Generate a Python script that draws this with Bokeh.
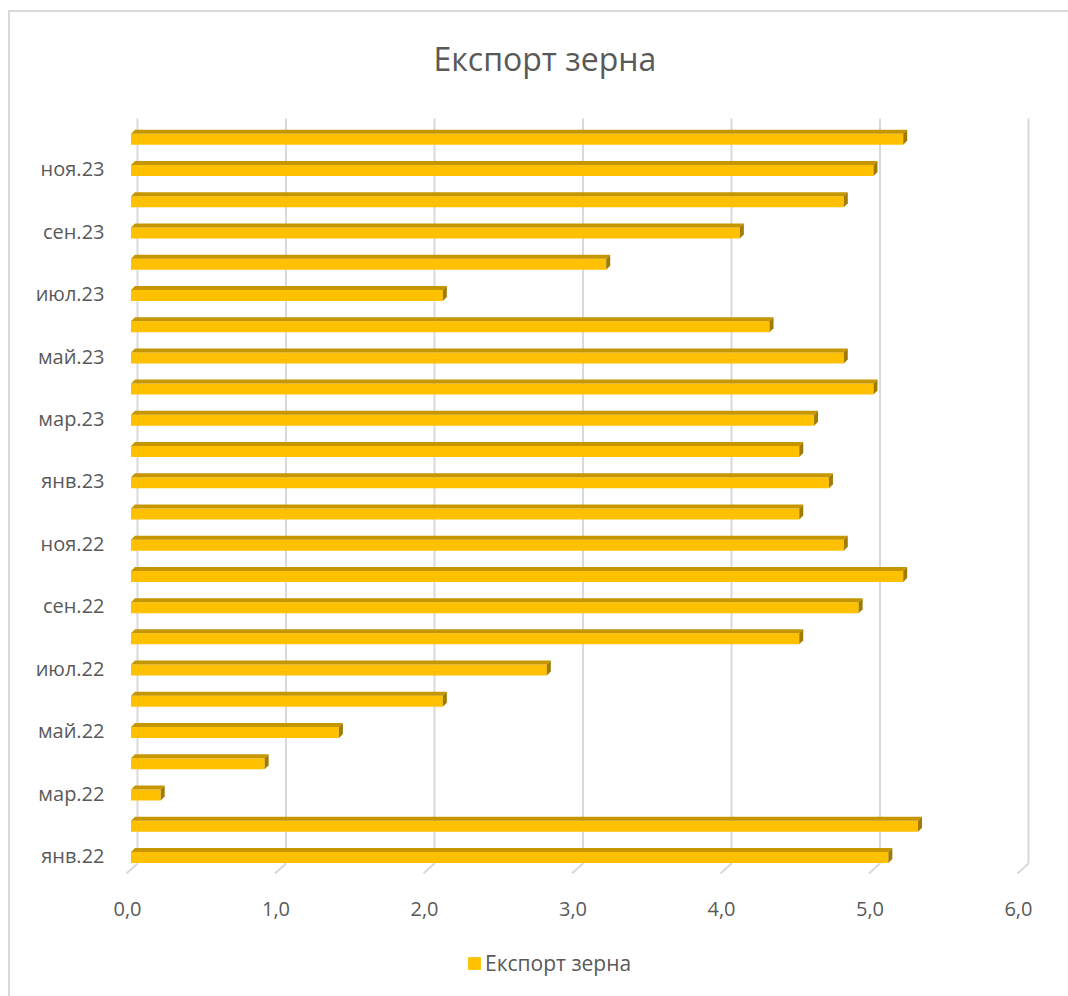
from bokeh.plotting import figure
from bokeh.models import (ColumnDataSource, Range1d, LinearAxis, FixedTicker,
                          Title, Legend, LegendItem)
from bokeh.layouts import column
from bokeh.embed import file_html
from bokeh.resources import INLINE

# ---------------- data ----------------
months = ["янв.22", "фев.22", "мар.22", "апр.22", "май.22", "июн.22",
          "июл.22", "авг.22", "сен.22", "окт.22", "ноя.22", "дек.22",
          "янв.23", "фев.23", "мар.23", "апр.23", "май.23", "июн.23",
          "июл.23", "авг.23", "сен.23", "окт.23", "ноя.23", "дек.23"]
values = [5.1, 5.3, 0.2, 0.9, 1.4, 2.1, 2.8, 4.5, 4.9, 5.2, 4.8, 4.5,
          4.7, 4.5, 4.6, 5.0, 4.8, 4.3, 2.1, 3.2, 4.1, 4.8, 5.0, 5.2]
x_ticks = [0, 1, 2, 3, 4, 5, 6]
x_tick_labels = ["0,0", "1,0", "2,0", "3,0", "4,0", "5,0", "6,0"]
title_text = "Експорт зерна"
series_name = "Експорт зерна"

# ---------------- style constants ----------------
TXT = "#595959"
GRID = "#D9D9D9"
FRONT = "#FFC000"
TOP = "#C59600"
SIDE = "#A07B00"
FONT = "Open Sans"

W, H = 1058, 934
LEG_H = 50
ML, MR, MT, MB = 110, 28, 88, 66
frame_w = W - ML - MR
frame_h = H - MT - MB
XMIN, XMAX = -0.1145, 6.081
YMIN, YMAX = -0.80, 24.185
pxx = frame_w / (XMAX - XMIN)      # px per x unit
pxy = frame_h / (YMAX - YMIN)      # px per y unit

# 3D look (pixels converted to data units)
front_shift = -6.5 / pxx
depth_dx = 4.0 / pxx
depth_dy = 4.0 / pxy
face_h = 11.0 / pxy
face_c = -0.06
grid_top = 23.61
grid_bot = -0.256
grid_diag = -0.577
grid_diag_dx = -11.0 / pxx

p = figure(width=W, height=H, x_range=Range1d(XMIN, XMAX), y_range=Range1d(YMIN, YMAX),
           output_backend="svg", toolbar_location=None,
           min_border_left=ML, min_border_right=MR, min_border_top=MT, min_border_bottom=MB,
           x_axis_location=None, y_axis_location=None)
p.outline_line_color = None
p.xgrid.visible = False
p.ygrid.visible = False
p.background_fill_color = "white"
p.border_fill_color = "white"

# gridlines (vertical back wall + floor diagonal)
gx0, gy0, gx1, gy1 = [], [], [], []
for t in x_ticks:
    gx0 += [t, t]
    gy0 += [grid_top, grid_bot]
    gx1 += [t, t + grid_diag_dx]
    gy1 += [grid_bot, grid_diag]
p.segment(x0=gx0, y0=gy0, x1=gx1, y1=gy1, line_color=GRID, line_width=2)

# bars
idx = list(range(len(values)))
left = [front_shift] * len(values)
right = [v + front_shift for v in values]
bottom = [i + face_c - face_h / 2 for i in idx]
top = [i + face_c + face_h / 2 for i in idx]
front_src = ColumnDataSource(dict(left=left, right=right, bottom=bottom, top=top))
p.quad(left="left", right="right", bottom="bottom", top="top", source=front_src,
       fill_color=FRONT, line_color=None)

top_xs, top_ys, side_xs, side_ys = [], [], [], []
for l, r, b, t in zip(left, right, bottom, top):
    top_xs.append([l, r, r + depth_dx, l + depth_dx])
    top_ys.append([t, t, t + depth_dy, t + depth_dy])
    side_xs.append([r, r, r + depth_dx, r + depth_dx])
    side_ys.append([b, t, t + depth_dy, b + depth_dy])
p.patches(xs=top_xs, ys=top_ys, fill_color=TOP, line_color=None)
p.patches(xs=side_xs, ys=side_ys, fill_color=SIDE, line_color=None)

# left axis (categories, every other label)
yax = LinearAxis(ticker=FixedTicker(ticks=idx[::2]))
yax.major_label_overrides = {i: months[i] for i in idx[::2]}
yax.axis_line_color = None
yax.major_tick_line_color = None
yax.minor_tick_line_color = None
yax.major_label_standoff = 10
yax.major_label_text_font = FONT
yax.major_label_text_font_size = "20px"
yax.major_label_text_color = TXT
p.add_layout(yax, "left")

# bottom axis (front plane, shifted slightly left)
shift = 10.0 / pxx
p.extra_x_ranges = {"front": Range1d(XMIN + shift, XMAX + shift)}
xax = LinearAxis(x_range_name="front", ticker=FixedTicker(ticks=x_ticks))
xax.major_label_overrides = {t: l for t, l in zip(x_ticks, x_tick_labels)}
xax.axis_line_color = None
xax.major_tick_line_color = None
xax.minor_tick_line_color = None
xax.major_label_standoff = 15
xax.major_label_text_font = FONT
xax.major_label_text_font_size = "20px"
xax.major_label_text_color = TXT
p.add_layout(xax, "below")

title = Title(text=title_text, align="left", offset=313, text_font=FONT,
              text_font_size="32px", text_color=TXT, text_font_style="normal", standoff=42)
p.add_layout(title, "above")

# legend strip (key swatch sits outside the visible range; only the legend shows)
lg = figure(width=W, height=LEG_H, x_range=Range1d(0, 1), y_range=Range1d(0, 1),
            output_backend="svg", toolbar_location=None, min_border=0,
            x_axis_location=None, y_axis_location=None)
lg.outline_line_color = None
lg.xgrid.visible = False
lg.ygrid.visible = False
lg_r = lg.quad(left=[2], right=[3], bottom=[2], top=[3], fill_color=FRONT, line_color=None)
legend = Legend(items=[LegendItem(label=series_name, renderers=[lg_r])],
                orientation="horizontal", location=(346, 19),
                border_line_color=None, background_fill_alpha=0,
                label_text_font=FONT, label_text_font_size="21px", label_text_color=TXT,
                glyph_width=16, glyph_height=16, label_standoff=3, padding=0, margin=0)
lg.add_layout(legend, "center")

layout = column(p, lg, spacing=0)
layout.styles = {"margin-left": "8px", "margin-top": "10px",
                 "border-left": "2px solid #D9D9D9", "border-top": "2px solid #D9D9D9"}

open("out.html", "w").write(file_html(layout, INLINE))
